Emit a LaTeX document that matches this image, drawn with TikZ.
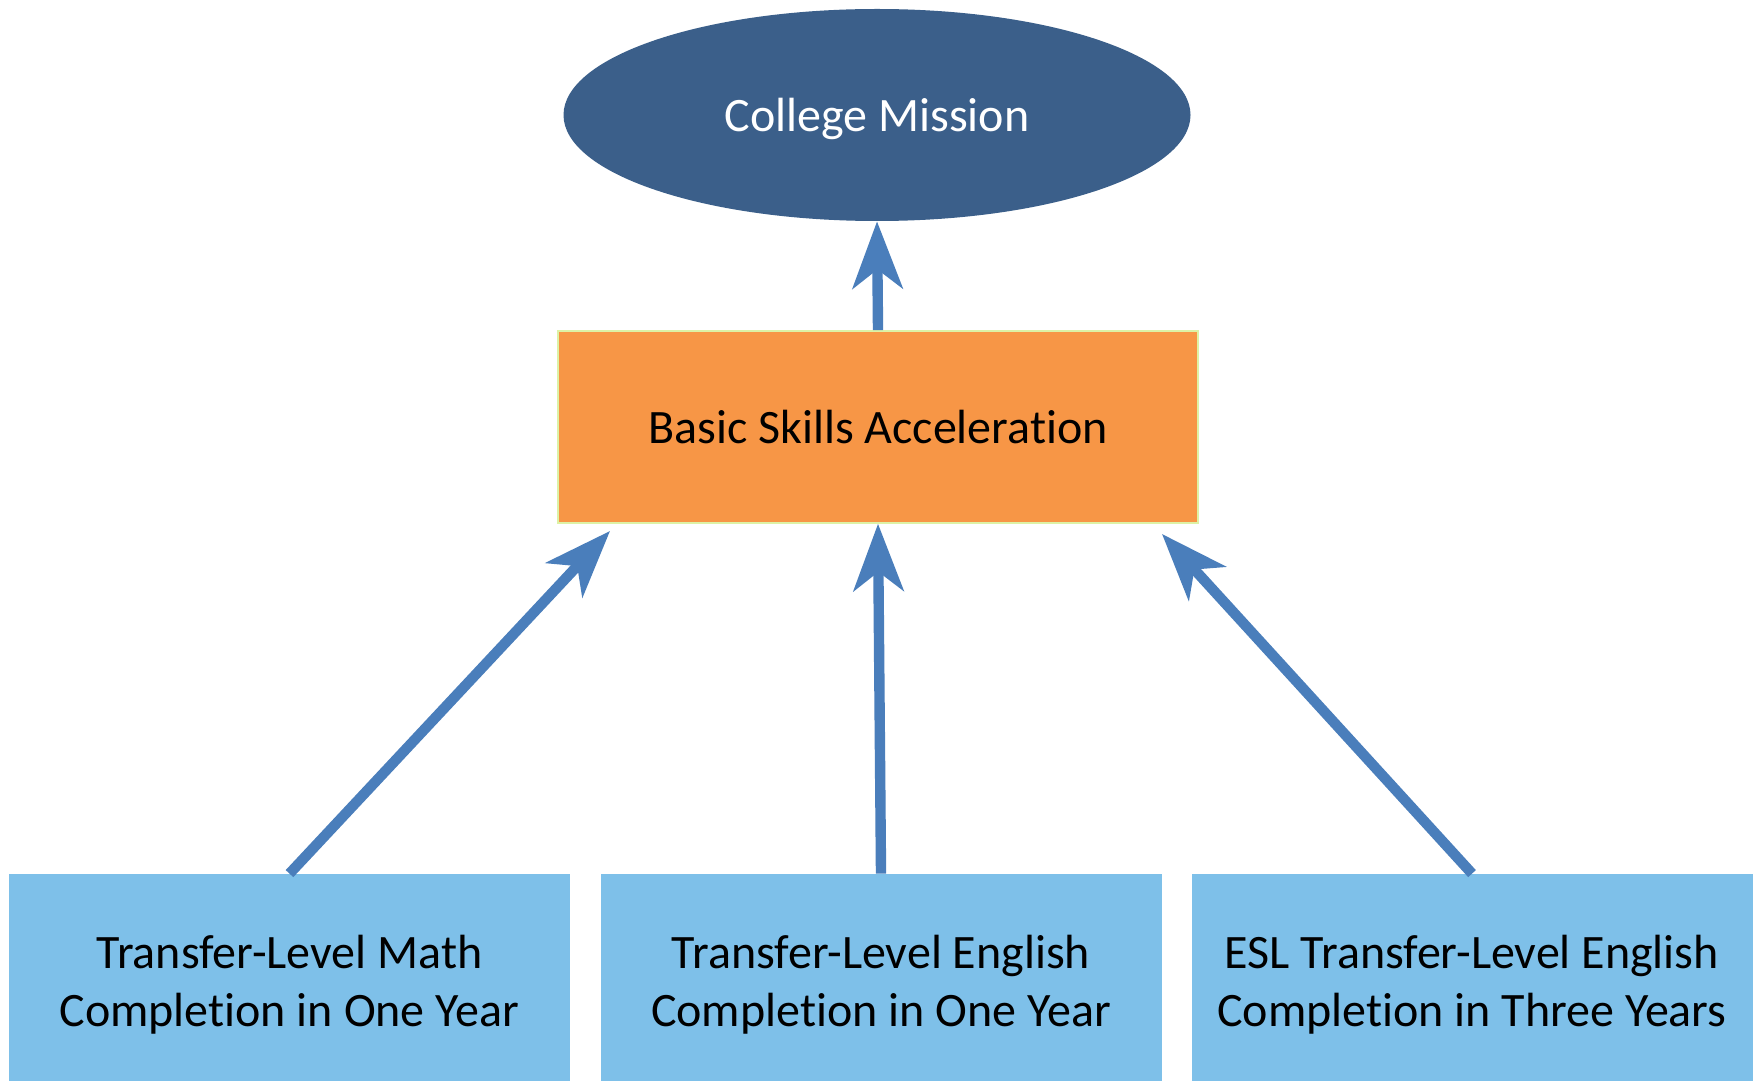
\documentclass[tikz,border=0pt]{standalone}
\usepackage{fontspec}
\setmainfont{Carlito}[Ligatures=NoCommon]
\usetikzlibrary{shapes.geometric,arrows.meta}
\definecolor{missionblue}{HTML}{3B5F8A}
\definecolor{accelorange}{HTML}{F79646}
\definecolor{accelrim}{HTML}{DDF2A6}
\definecolor{goalblue}{HTML}{7EC0E9}
\definecolor{linkblue}{HTML}{4A7EBB}
\tikzset{
  goal/.style={fill=goalblue, minimum width=280.5pt, minimum height=111pt,
    inner sep=0pt, align=center, font=\fontsize{24pt}{29pt}\selectfont},
  link/.style={draw=linkblue, line width=5.2pt,
    -{Stealth[length=33.5pt, width=25pt, inset=9.5pt]}}
}
\begin{document}
\begin{tikzpicture}[x=0.5pt, y=-0.5pt]
\useasboundingbox (0,0) rectangle (1759,1080);
\node [ellipse, fill=missionblue, text=white, minimum width=313.5pt, minimum height=106pt,
  inner sep=0pt, text height=22pt, text depth=5pt,
  font=\fontsize{24pt}{29pt}\selectfont] (mission) at (877,115) {College Mission};
\node [fill=accelorange, draw=accelrim, line width=0.8pt, minimum width=320pt, minimum height=96pt,
  inner sep=0pt, font=\fontsize{24pt}{29pt}\selectfont] (accel) at (878,427) {Basic Skills Acceleration};
\node [goal] (math) at (289.5,985) {Transfer-Level Math\\Completion in One Year};
\node [goal] (eng) at (881,985) {Transfer-Level English\\Completion in One Year};
\node [goal] (esl) at (1472,985) {ESL Transfer-Level English\\Completion in Three Years};
\coordinate (mathin) at (610,531);
\coordinate (eslin) at (1162,534);
% arrows
\draw [link] (accel.north) -- (mission.south);
\draw [link] (math.north) -- (mathin);
\draw [link] (eng.north) -- (accel.south);
\draw [link] (esl.north) -- (eslin);
\end{tikzpicture}
\end{document}
